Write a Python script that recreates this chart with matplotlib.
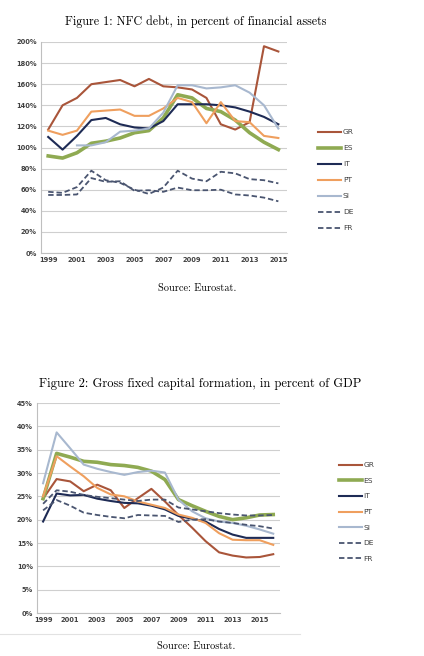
import matplotlib
matplotlib.use('Agg')
import matplotlib.pyplot as plt
from matplotlib.lines import Line2D
from matplotlib.ticker import FuncFormatter

# Figure 1 data: NFC debt, % of financial assets
years1 = list(range(1999, 2016))
gr1 = [117, 140, 147, 160, 162, 164, 158, 165, 158, 157, 155, 147, 122, 117, 124, 196, 191]
es1 = [92, 90, 95, 104, 106, 109, 114, 116, 128, 150, 147, 137, 134, 126, 114, 105, 98]
it1 = [110, 98, 111, 126, 128, 122, 119, 118, 125, 141, 141, 141, 140, 138, 134, 129, 122]
pt1 = [116, 112, 116, 134, 135, 136, 130, 130, 137, 147, 143, 123, 143, 125, 124, 111, 109]
si1 = [None, None, 102, 102, 105, 115, 116, 118, 133, 159, 159, 156, 157, 159, 152, 140, 118]
de1 = [55, 55, 55.5, 71, 67.5, 68, 59, 59.5, 58, 62, 59.5, 59.5, 60, 55.5, 54.5, 52.5, 49]
fr1 = [58, 57, 62.5, 78, 69, 66.5, 60, 56, 62, 78, 70.5, 68, 77, 75.5, 70, 69, 66]

# Figure 2 data: gross fixed capital formation, % of GDP
years2 = list(range(1999, 2017))
gr2 = [24.5, 28.7, 28.2, 26.1, 27.5, 26.3, 22.5, 24.6, 26.6, 23.9, 21.0, 18.3, 15.4, 13.0, 12.3, 11.9, 12.0, 12.6]
es2 = [24.5, 34.2, 33.4, 32.5, 32.3, 31.8, 31.6, 31.2, 30.4, 28.6, 24.3, 23.0, 21.8, 20.7, 20.0, 20.4, 21.0, 21.1]
it2 = [19.6, 25.6, 25.2, 25.3, 24.5, 24.0, 23.6, 23.5, 23.0, 22.2, 20.8, 20.2, 19.6, 18.0, 16.8, 16.1, 16.1, 16.1]
pt2 = [25.0, 33.6, 31.4, 29.3, 26.8, 25.4, 25.0, 23.9, 23.2, 22.5, 21.1, 20.4, 19.3, 17.1, 15.7, 15.6, 15.6, 14.6]
si2 = [27.8, 38.7, 35.3, 31.8, 30.9, 30.2, 29.6, 30.2, 30.5, 30.1, 24.3, 21.8, 20.3, 19.6, 19.3, 18.7, 17.9, 17.0]
de2 = [22.0, 24.2, 23.0, 21.5, 21.0, 20.6, 20.3, 21.0, 20.9, 20.8, 19.5, 20.0, 20.1, 19.6, 19.3, 18.9, 18.6, 18.1]
fr2 = [23.4, 26.3, 26.0, 25.3, 24.9, 24.6, 24.3, 24.0, 24.3, 24.3, 22.6, 22.2, 21.8, 21.4, 21.1, 20.9, 20.9, 21.0]

labels = ['GR', 'ES', 'IT', 'PT', 'SI', 'DE', 'FR']
colors = ['#A9553A', '#8FAA52', '#1E2B55', '#EF9F5E', '#A8B8CF', '#4A5570', '#4A5570']
widths = [1.5, 2.6, 1.5, 1.5, 1.5, 1.3, 1.3]
styles = ['-', '-', '-', '-', '-', '--', '--']

tick_color = '#404040'
grid_color = '#CFCFCF'
serif = 'cmr10'

fig = plt.figure(figsize=(4.24, 6.56), dpi=100)


def style_axes(ax):
    ax.set_facecolor('white')
    for s in ['top', 'right']:
        ax.spines[s].set_visible(False)
    ax.spines['left'].set_color('#BFBFBF')
    ax.spines['bottom'].set_color('#BFBFBF')
    ax.spines['left'].set_linewidth(0.8)
    ax.spines['bottom'].set_linewidth(0.8)
    ax.grid(True, axis='y', color=grid_color, linewidth=0.8)
    ax.set_axisbelow(True)
    ax.tick_params(length=0, labelsize=4.8, colors=tick_color, pad=3)
    for t in ax.get_xticklabels() + ax.get_yticklabels():
        t.set_fontweight('bold')
    ax.yaxis.set_major_formatter(FuncFormatter(lambda v, p: '%d%%' % v))


# ---- Figure 1 ----
ax1 = fig.add_axes([41 / 424, 1 - 253 / 656, 246 / 424, 211 / 656])
series1 = [gr1, es1, it1, pt1, si1, de1, fr1]
for vals, lab, c, w, ls in zip(series1, labels, colors, widths, styles):
    ax1.plot(years1, [v if v is not None else float('nan') for v in vals],
             color=c, linewidth=w, linestyle=ls, label=lab, dashes=(3, 1.6) if ls == '--' else (None, None))
ax1.set_xlim(1998.5, 2015.6)
ax1.set_ylim(0, 200)
ax1.set_yticks(range(0, 201, 20))
ax1.set_xticks(range(1999, 2016, 2))
style_axes(ax1)
ax1.legend(loc='center left', bbox_to_anchor=(318 / 424, 1 - 180 / 656), bbox_transform=fig.transFigure,
           frameon=False, fontsize=5.4, handlelength=3.0, handletextpad=0.3, labelspacing=1.3,
           borderpad=0, borderaxespad=0, labelcolor=tick_color)

fig.text(196 / 424, 1 - 22 / 656, 'Figure 1: NFC debt, in percent of financial assets',
         ha='center', va='center', fontsize=8.7, family=serif)
fig.text(197 / 424, 1 - 288 / 656, 'Source: Eurostat.', ha='center', va='center', fontsize=7.4, family=serif)

# ---- Figure 2 ----
ax2 = fig.add_axes([37 / 424, 1 - 613 / 656, 243 / 424, 210 / 656])
series2 = [gr2, es2, it2, pt2, si2, de2, fr2]
for vals, lab, c, w, ls in zip(series2, labels, colors, widths, styles):
    ax2.plot(years2, vals, color=c, linewidth=w, linestyle=ls, label=lab,
             dashes=(3, 1.6) if ls == '--' else (None, None))
ax2.set_xlim(1998.55, 2016.5)
ax2.set_ylim(0, 45)
ax2.set_yticks(range(0, 46, 5))
ax2.set_xticks(range(1999, 2016, 2))
style_axes(ax2)
ax2.legend(loc='center left', bbox_to_anchor=(339 / 424, 1 - 512 / 656), bbox_transform=fig.transFigure,
           frameon=False, fontsize=5.4, handlelength=3.0, handletextpad=0.3, labelspacing=1.25,
           borderpad=0, borderaxespad=0, labelcolor=tick_color)

fig.text(200 / 424, 1 - 384 / 656, 'Figure 2: Gross fixed capital formation, in percent of GDP',
         ha='center', va='center', fontsize=9.0, family=serif)
fig.text(196 / 424, 1 - 646 / 656, 'Source: Eurostat.', ha='center', va='center', fontsize=7.4, family=serif)

# faint chart border line under figure 2
fig.add_artist(Line2D([0, 300 / 424], [1 - 634 / 656, 1 - 634 / 656], color='#E2E2E2', linewidth=0.8))

fig.savefig('out.png', dpi=100)
